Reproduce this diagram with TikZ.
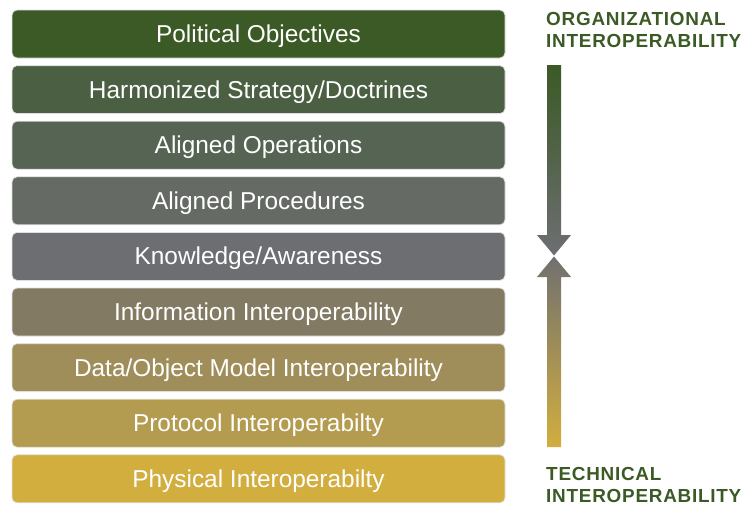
\documentclass[tikz,border=0pt]{standalone}
\usepackage{fontspec}
\setmainfont{Liberation Sans}
\newfontfamily\capsfont[LetterSpace=4]{Liberation Sans}
\usetikzlibrary{positioning}
\definecolor{lay1}{HTML}{3B5A25}
\definecolor{lay2}{HTML}{4B6042}
\definecolor{lay3}{HTML}{566453}
\definecolor{lay4}{HTML}{656B64}
\definecolor{lay5}{HTML}{6D6E72}
\definecolor{lay6}{HTML}{827A62}
\definecolor{lay7}{HTML}{A08E5A}
\definecolor{lay8}{HTML}{B39B4F}
\definecolor{lay9}{HTML}{D2AE3F}
\tikzset{
  node distance=55.6pt,
  layer/.style={rectangle, rounded corners=5pt, minimum width=493pt,
    minimum height=48pt, inner sep=0pt, draw=black!12, line width=0.8pt,
    text height=18pt, text depth=1pt,
    text=white, font=\fontsize{24.4}{28}\selectfont},
  side/.style={anchor=north west, align=left, inner sep=0pt, text=lay1,
    font=\capsfont\bfseries\fontsize{18.9}{22}\selectfont},
}

\begin{document}
\begin{tikzpicture}[x=1pt, y=-1pt]
      \useasboundingbox (0,0) rectangle (742,506);

      \node[layer, fill=lay1] at (258.5,34) (l1) {Political Objectives};
      \node[layer, fill=lay2, below of=l1] (l2) {Harmonized Strategy/Doctrines};
      \node[layer, fill=lay3, below of=l2] (l3) {Aligned Operations};
      \node[layer, fill=lay4, below of=l3] (l4) {Aligned Procedures};
      \node[layer, fill=lay5, below of=l4] (l5) {Knowledge/Awareness};
      \node[layer, fill=lay6, below of=l5] (l6) {Information Interoperability};
      \node[layer, fill=lay7, below of=l6] (l7) {Data/Object Model Interoperability};
      \node[layer, fill=lay8, below of=l7] (l8) {Protocol Interoperabilty};
      \node[layer, fill=lay9, below of=l8] (l9) {Physical Interoperabilty};

      \node[side] at (546,12) (org) {ORGANIZATIONAL\\INTEROPERABILITY};
      \node[side] at (546,467.5) (tech) {TECHNICAL\\INTEROPERABILITY};

      % arrows meeting at knowledge level
      \shade[top color=lay1, bottom color=lay5]
        (547,65) -- (561,65) -- (561,235) -- (571,235) -- (554,255.5)
        -- (537,235) -- (547,235) -- cycle;
      \shade[top color=lay5!85!lay6, bottom color=lay9]
        (554,256.5) -- (571,277) -- (561,277) -- (561,447) -- (547,447)
        -- (547,277) -- (537,277) -- cycle;
    \end{tikzpicture}
\end{document}
